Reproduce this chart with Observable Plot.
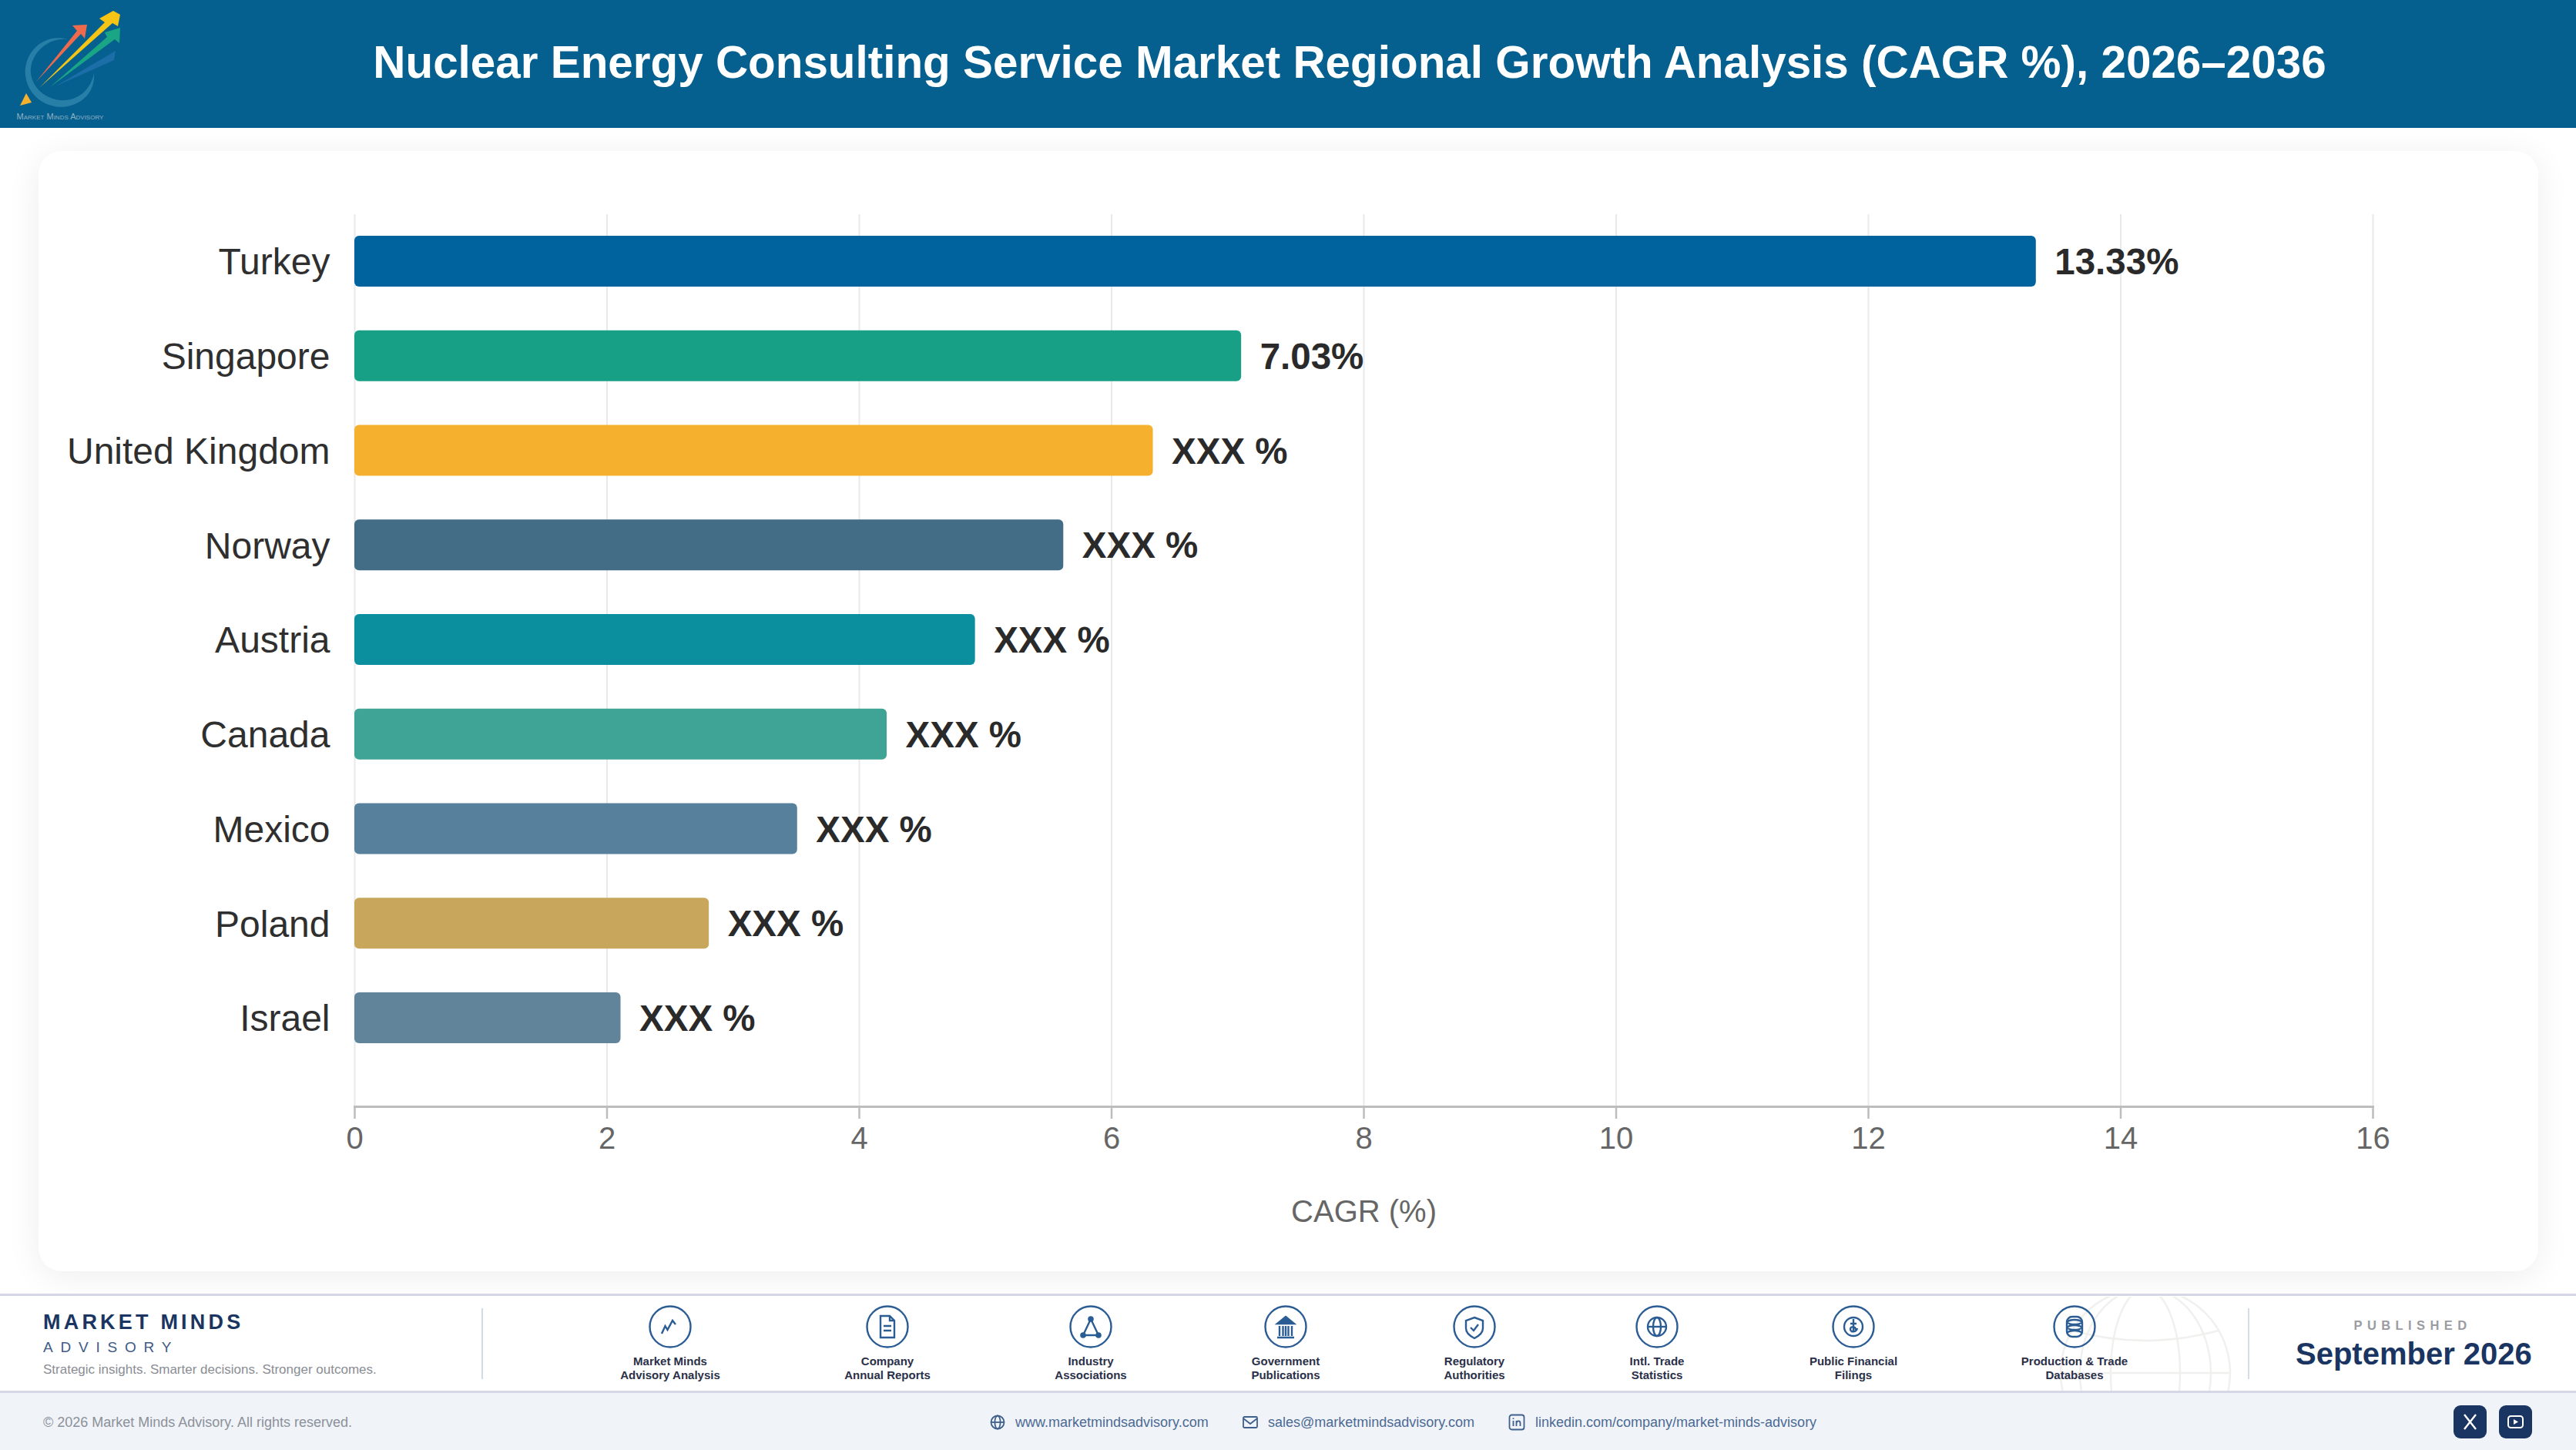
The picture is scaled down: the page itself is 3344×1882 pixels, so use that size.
<!DOCTYPE html>
<html><head><meta charset="utf-8">
<script src="https://cdn.jsdelivr.net/npm/d3@7"></script>
<script src="https://cdn.jsdelivr.net/npm/@observablehq/plot@0.6"></script>
<style>
html,body{margin:0;padding:0;background:#fff}
#page{position:relative;width:3344px;height:1882px;overflow:hidden;background:#fff;font-family:"Liberation Sans",Arial,sans-serif}
#page>*{position:absolute}
#header{left:0;top:0;width:3344px;height:166px;background:#05608f}
#title{left:160px;top:0;width:3184px;height:166px;line-height:162px;text-align:center;color:#fff;font-weight:700;font-size:58.4px;white-space:nowrap}
#card{left:50px;top:196px;width:3245px;height:1454px;background:#fff;border-radius:30px;box-shadow:0 6px 44px rgba(0,0,0,.075)}
#chart{left:0;top:196px;width:3344px;height:1452px}
#band1{left:0;top:1679px;width:3344px;height:129px;background:#fff;border-top:3px solid #d5d7e7;border-bottom:3px solid #d5d7e7;box-sizing:border-box}
#band2{left:0;top:1808px;width:3344px;height:74px;background:#f0f4f9}
.t{white-space:nowrap}
.src{transform:translateX(-50%);top:1758px;text-align:center;font-weight:700;font-size:15px;line-height:18px;color:#2a3048;white-space:nowrap}
.ic{top:1694px;width:56px;height:56px;transform:translateX(-28px)}
.ic *{fill:none;stroke:#2b5d94;stroke-width:2.4}
.lnk{top:1835px;font-size:18px;line-height:22px;color:#4c6a93;white-space:nowrap}
.li{top:1834px;width:24px;height:24px;transform:translateX(-12px)}
.li *{fill:none;stroke:#3f5f8c;stroke-width:1.8}
.soc{top:1824px;width:43px;height:43px;border-radius:9px;background:#1a3561}
.soc svg{position:absolute;left:0;top:0}
</style></head><body>
<div id="page">
<div id="header"></div>
<svg style="left:0;top:0" width="170" height="166" viewBox="0 0 170 166">
  <path d="M88 51C55 42 30 70 33 98C36 125 62 143 88 138C108 134 124 118 122 95C118 115 104 128 86 130C62 132 42 115 40 95C38 72 60 48 88 51Z" fill="#2f86ad" opacity=".8"/>
  <path d="M72 112 L150 66 L148 78 Z" fill="#1c6ea8"/>
  <path d="M65 113 L139 48 L136 42 L156 36 L155 56 L149 51 Z" fill="#1aa585"/>
  <path d="M52 113 L136 29 L129 24 L147 14 L156 19 L153 34 L146 30 Z" fill="#f6c414"/>
  <path d="M47 106 L100 40 L94 33 L113 32 L110 50 L105 44 Z" fill="#ee6a4c"/>
  <path d="M26 137 L34 121 L41 133 Z" fill="#f5b12e"/>
  <text x="78" y="155" text-anchor="middle" font-size="11" fill="#8fb0c4" style="font-variant:small-caps;font-family:'Liberation Sans'">Market Minds Advisory</text>
</svg>
<div id="title" class="t">Nuclear Energy Consulting Service Market Regional Growth Analysis (CAGR %), 2026–2036</div>
<div id="card"></div>
<div id="chart"></div>
<div id="band1"></div>
<svg style="left:2650px;top:1683px" width="270" height="122" viewBox="0 0 270 122">
  <g fill="none" stroke="#f0f0ee" stroke-width="2.5">
    <circle cx="135" cy="99" r="110"/><ellipse cx="135" cy="99" rx="45" ry="110"/><ellipse cx="135" cy="99" rx="85" ry="110"/>
    <path d="M25 99H245M40 44Q135 70 230 44"/>
  </g>
</svg>
<div id="band2"></div>

<div class="t" style="left:56px;top:1700px;font-size:27px;line-height:32px;font-weight:700;letter-spacing:4.2px;color:#1a3561">MARKET MINDS</div>
<div class="t" style="left:56px;top:1737px;font-size:19px;line-height:24px;letter-spacing:9.8px;color:#3d5a85">ADVISORY</div>
<div class="t" style="left:56px;top:1767px;font-size:17px;line-height:22px;color:#8a8d94">Strategic insights. Smarter decisions. Stronger outcomes.</div>
<div style="left:625px;top:1698px;width:2px;height:92px;background:#cfdbe7"></div>
<div style="left:2918px;top:1698px;width:2px;height:92px;background:#d5dce4"></div>

<svg class="ic" style="left:870px" viewBox="0 0 56 56"><circle cx="28" cy="28" r="26.5"/><path d="M17 37L21.5 27L24.5 32L31 20L35 25" stroke-width="2.8"/></svg>
<svg class="ic" style="left:1152px" viewBox="0 0 56 56"><circle cx="28" cy="28" r="26.5"/><path d="M19 14H31L37 20V42H19ZM31 14V20H37M23 27H33M23 33H33"/></svg>
<svg class="ic" style="left:1416px" viewBox="0 0 56 56"><circle cx="28" cy="28" r="26.5"/><path d="M28 18L18 39H38Z"/><circle cx="28" cy="18" r="2.6" style="fill:#2b5d94"/><circle cx="18" cy="39" r="2.6" style="fill:#2b5d94"/><circle cx="38" cy="39" r="2.6" style="fill:#2b5d94"/></svg>
<svg class="ic" style="left:1669px" viewBox="0 0 56 56"><circle cx="28" cy="28" r="26.5"/><path d="M28 15L39 24H17Z" style="fill:#2b5d94"/><path d="M20 27V40M24.5 27V40M28 27V40M31.5 27V40M36 27V40M17 42H39"/></svg>
<svg class="ic" style="left:1914px" viewBox="0 0 56 56"><circle cx="28" cy="28" r="26.5"/><path d="M28 16L39 20V30C39 36 34 40 28 43C22 40 17 36 17 30V20ZM23 29L27 33L33 25"/></svg>
<svg class="ic" style="left:2151px" viewBox="0 0 56 56"><circle cx="28" cy="28" r="26.5"/><circle cx="28" cy="28" r="12"/><ellipse cx="28" cy="28" rx="5" ry="12"/><path d="M16 28H40"/></svg>
<svg class="ic" style="left:2406px" viewBox="0 0 56 56"><circle cx="28" cy="28" r="26.5"/><circle cx="28" cy="28" r="12"/><path d="M28 18V35M32 24H24M33 30C32 35 24 36 24 31C24 27 31 27 31 32"/></svg>
<svg class="ic" style="left:2693px" viewBox="0 0 56 56"><circle cx="28" cy="28" r="26.5"/><rect x="18" y="15" width="20" height="26" rx="7"/><path d="M18 22C22 26 34 26 38 22M18 22C22 18 34 18 38 22M18 29C22 33 34 33 38 29M18 29C22 25 34 25 38 29M18 36C22 32 34 32 38 36"/></svg>

<div class="src" style="left:870px">Market Minds<br>Advisory Analysis</div>
<div class="src" style="left:1152px">Company<br>Annual Reports</div>
<div class="src" style="left:1416px">Industry<br>Associations</div>
<div class="src" style="left:1669px">Government<br>Publications</div>
<div class="src" style="left:1914px">Regulatory<br>Authorities</div>
<div class="src" style="left:2151px">Intl. Trade<br>Statistics</div>
<div class="src" style="left:2406px">Public Financial<br>Filings</div>
<div class="src" style="left:2693px">Production &amp; Trade<br>Databases</div>

<div class="t" style="left:2983px;width:298px;text-align:center;top:1709px;font-size:16.5px;line-height:22px;font-weight:700;letter-spacing:6.4px;color:#9a9ca2">PUBLISHED</div>
<div class="t" style="left:2980px;top:1733px;font-size:40px;line-height:48px;font-weight:700;color:#1a3561">September 2026</div>

<div class="t" style="left:56px;top:1835px;font-size:18px;line-height:22px;color:#8c919a">© 2026 Market Minds Advisory. All rights reserved.</div>
<svg class="li" style="left:1295px" viewBox="0 0 24 24"><circle cx="12" cy="12" r="8.5"/><ellipse cx="12" cy="12" rx="3.6" ry="8.5"/><path d="M3.5 12H20.5"/></svg>
<div class="lnk" style="left:1318px">www.marketmindsadvisory.com</div>
<svg class="li" style="left:1623px" viewBox="0 0 24 24"><rect x="3" y="5" width="18" height="14" rx="1.5"/><path d="M3 7L12 14L21 7"/></svg>
<div class="lnk" style="left:1646px">sales@marketmindsadvisory.com</div>
<svg class="li" style="left:1969px" viewBox="0 0 24 24"><rect x="2.5" y="2.5" width="19" height="19" rx="3"/><path d="M7.5 10V17M7.5 6.6V8M11.5 17V10M11.5 13C12 9.5 16.5 9.5 16.5 13V17"/></svg>
<div class="lnk" style="left:1993px">linkedin.com/company/market-minds-advisory</div>
<div class="soc" style="left:3185px"><svg width="43" height="43" viewBox="0 0 43 43"><path d="M14 12L29 31M29 12L14 31" stroke="#fff" stroke-width="2.4" fill="none"/></svg></div>
<div class="soc" style="left:3244px"><svg width="43" height="43" viewBox="0 0 43 43"><rect x="12" y="14" width="19" height="15" rx="3.5" stroke="#fff" stroke-width="2" fill="none"/><path d="M19 18L25 21.5L19 25Z" fill="#fff"/></svg></div>
</div>
<script>
const countries = ["Turkey","Singapore","United Kingdom","Norway","Austria","Canada","Mexico","Poland","Israel"];
const cagrValues = [13.33,7.03,6.33,5.62,4.92,4.22,3.51,2.81,2.11];
const valueLabels = ["13.33%","7.03%","XXX %","XXX %","XXX %","XXX %","XXX %","XXX %","XXX %"];
const barColors = ["#00639e","#17a085","#f5b12e","#436d87","#0b8f9e","#3fa395","#56809b","#c8a65b","#61849b"];
const xTicks = [0,2,4,6,8,10,12,14,16];
const rows = countries.map((country,i)=>({country,value:cagrValues[i],label:valueLabels[i],fill:barColors[i]}));

const plot = Plot.plot({
  width:3344, height:1452,
  marginLeft:460, marginRight:264, marginTop:82, marginBottom:212,
  style:{fontFamily:'"Liberation Sans",Arial,sans-serif',background:"transparent",overflow:"visible"},
  x:{domain:[0,16],ticks:xTicks},
  y:{domain:countries,range:[82,1186],round:false,paddingInner:0.462,paddingOuter:0.228,align:0.5},
  color:{type:"identity"},
  marks:[
    Plot.gridX(xTicks,{stroke:"#e9e9e9",strokeOpacity:1,strokeWidth:2}),
    Plot.barX(rows,{x:"value",y:"country",fill:"fill",rx:6}),
    Plot.text(rows,{x:"value",y:"country",text:"label",dx:24,dy:1.5,textAnchor:"start",fontWeight:"bold",fontSize:47.5,fill:"#2a2a2a"}),
    Plot.axisY({tickSize:0,tickPadding:32,dy:1.5,fontSize:48,color:"#2f2f2f",label:null}),
    Plot.axisX(xTicks,{tickSize:16,tickPadding:10,fontSize:40,tickFormat:d3.format("d"),stroke:"#bdbdbd",strokeWidth:2.5,fill:"#666",label:"CAGR (%)",labelAnchor:"center",labelArrow:"none",labelOffset:149}),
    Plot.frame({anchor:"bottom",stroke:"#bdbdbd",strokeWidth:3,strokeOpacity:1})
  ]
});
document.getElementById("chart").appendChild(plot);
</script>
</body></html>
